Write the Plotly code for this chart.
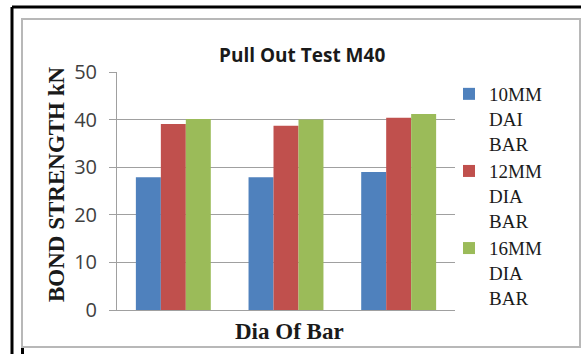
import plotly.graph_objects as go

# Bar groups (no tick labels are shown on the category axis)
groups = ["Set 1", "Set 2", "Set 3"]

# Bond strength (kN) per bar diameter
bar_10mm = [27.9, 27.9, 29.0]
bar_12mm = [39.1, 38.7, 40.4]
bar_16mm = [40.1, 40.0, 41.2]

series_names = ["10MM<br>DAI<br>BAR", "12MM<br>DIA<br>BAR", "16MM<br>DIA<br>BAR"]
series_values = [bar_10mm, bar_12mm, bar_16mm]
series_colors = ["#4F81BD", "#C0504D", "#9BBB59"]

y_ticks = [0, 10, 20, 30, 40, 50]

W, H = 581, 354


def px(x):
    return x / W


def py(y):
    return 1 - y / H


fig = go.Figure()
for name, vals, col in zip(series_names, series_values, series_colors):
    fig.add_trace(go.Bar(x=groups, y=vals, name=name, marker_color=col,
                         marker_line_width=0))

fig.update_layout(
    width=W, height=H,
    margin=dict(l=0, r=0, t=0, b=0, autoexpand=False),
    paper_bgcolor="white", plot_bgcolor="white",
    barmode="group", bargap=0.335, bargroupgap=0,
    showlegend=True,
    legend=dict(
        x=px(449), y=py(75), xanchor="left", yanchor="top",
        font=dict(family="Liberation Serif", size=19, color="#1a1a1a"),
        itemwidth=30, tracegroupgap=0, valign="top",
        bgcolor="rgba(0,0,0,0)",
    ),
    xaxis=dict(
        domain=[px(117), px(455)],
        showticklabels=False, ticks="",
        showline=True, linecolor="#a0a0a0", linewidth=1,
        showgrid=False, zeroline=False,
    ),
    yaxis=dict(
        domain=[py(310), py(72)],
        range=[0, 50], tickvals=y_ticks,
        ticks="outside", ticklen=7, tickcolor="#a0a0a0",
        ticklabelstandoff=8,
        tickfont=dict(family="Open Sans", size=20, color="#404040"),
        showline=True, linecolor="#a0a0a0", linewidth=1,
        showgrid=True, gridcolor="#a0a0a0", gridwidth=1,
        zeroline=False,
    ),
)

# Chart title and axis titles
fig.add_annotation(text="<b>Pull Out Test M40</b>", x=px(302), y=py(55),
                   xref="paper", yref="paper", showarrow=False,
                   xanchor="center", yanchor="middle",
                   font=dict(family="Open Sans", size=19, color="#1a1a1a"))
fig.add_annotation(text="<b>BOND STRENGTH kN</b>", x=px(56), y=py(184),
                   xref="paper", yref="paper", showarrow=False, textangle=-90,
                   xanchor="center", yanchor="middle",
                   font=dict(family="Liberation Serif", size=23, color="#1a1a1a"))
fig.add_annotation(text="<b>Dia Of Bar</b>", x=px(289), y=py(331),
                   xref="paper", yref="paper", showarrow=False,
                   xanchor="center", yanchor="middle",
                   font=dict(family="Liberation Serif", size=23, color="#1a1a1a"))

# Frames: outer black border and inner grey chart frame
fig.add_shape(type="line", x0=px(12), x1=1, y0=py(7), y1=py(7),
              xref="paper", yref="paper", line=dict(color="black", width=3))
fig.add_shape(type="line", x0=px(12), x1=px(12), y0=py(7), y1=0,
              xref="paper", yref="paper", line=dict(color="black", width=3))
fig.add_shape(type="line", x0=px(22.5), x1=px(22.5), y0=py(348), y1=0,
              xref="paper", yref="paper", line=dict(color="black", width=3))
fig.add_shape(type="rect", x0=px(22), x1=px(580), y0=py(347), y1=py(19),
              xref="paper", yref="paper", line=dict(color="#b8b8b8", width=2))

fig.write_html("out.html")
